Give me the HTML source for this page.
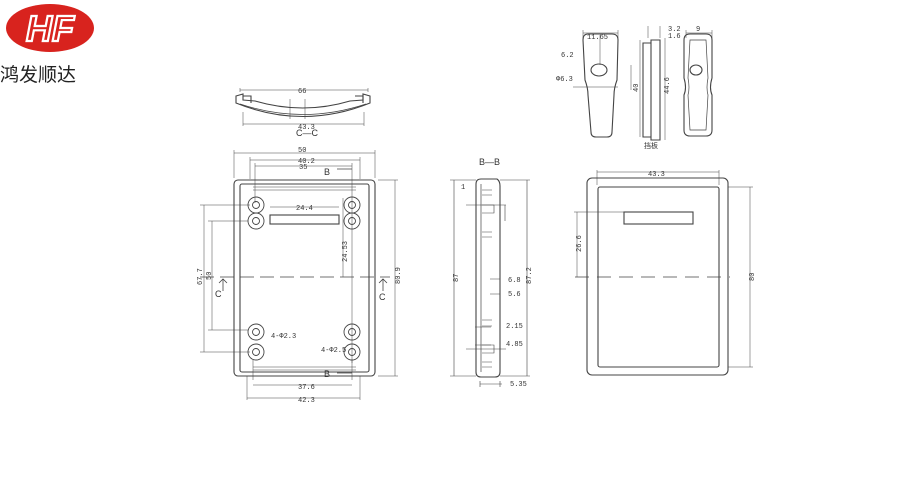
<!DOCTYPE html>
<html><head><meta charset="utf-8"><style>
html,body{margin:0;padding:0;background:#fff;width:900px;height:500px;overflow:hidden}
svg{display:block}
text{font-family:"Liberation Mono",monospace;font-size:7px;fill:#333}
</style></head><body>
<svg width="900" height="500" viewBox="0 0 900 500" xmlns="http://www.w3.org/2000/svg">
<!-- logo -->
<ellipse cx="50" cy="28" rx="44" ry="24" fill="#d8231e"/>
<text x="50" y="41" text-anchor="middle" style="font-family:'Liberation Sans',sans-serif;font-size:36px;font-weight:bold;font-style:italic;fill:#d8231e;stroke:#fff;stroke-width:2.2">HF</text>
<text x="0" y="81" style="font-family:'Liberation Sans','Noto Sans CJK SC',sans-serif;font-size:19px;fill:#222">鸿发顺达</text>

<g stroke="#444" fill="none" stroke-width="1.1">
<!-- C-C -->
<path d="M236 103 Q303 130 370 103 L370 96 L363 94 L363 100 L350 101 Q303 115 255 101 L243 100 L243 94 L236 96 Z"/>
<path d="M240 104 Q303 125 366 104" stroke-width="0.8"/>
<path d="M243 96h8v7M355 96h8v7" />
<path d="M240 92v-4M368 92v-4M240 90h128M243 112v14M364 112v14M243 124h121" stroke-width="0.5"/>
<path d="M290 99v20M305 99v20" stroke-width="0.5"/>

<!-- front view -->
<rect x="234" y="180" width="141" height="196" rx="4"/>
<rect x="240" y="184" width="129" height="188" rx="2"/>
<path d="M253 187h103M253 190h103M253 370h103M253 367h103" stroke-width="0.6"/>
<rect x="270" y="215" width="69" height="9"/>
<g stroke-width="0.9">
<circle cx="256" cy="205" r="8"/><circle cx="256" cy="205" r="3.5"/>
<circle cx="256" cy="221" r="8"/><circle cx="256" cy="221" r="3.5"/>
<circle cx="352" cy="205" r="8"/><circle cx="352" cy="205" r="3.5"/>
<circle cx="352" cy="221" r="8"/><circle cx="352" cy="221" r="3.5"/>
<circle cx="256" cy="332" r="8"/><circle cx="256" cy="332" r="3.5"/>
<circle cx="256" cy="352" r="8"/><circle cx="256" cy="352" r="3.5"/>
<circle cx="352" cy="332" r="8"/><circle cx="352" cy="332" r="3.5"/>
<circle cx="352" cy="352" r="8"/><circle cx="352" cy="352" r="3.5"/>
</g>
<g stroke-width="0.5">
<path d="M234 150v28M375 150v28M234 153h141M250 157v22M360 157v22M250 160h110M255 163v40M352 163v200M255 166h97"/>
<path d="M253 380v-20M352 380v-20M253 385h99M247 400v-24M360 400v-24M247 398h113"/>
<path d="M200 205h50M200 352h50M204 205v147M208 221h40M208 330h40M212 221v109"/>
<path d="M378 180h20M378 376h20M395 180v196"/>
<path d="M343 198v79M270 207h69"/>
</g>
<path d="M200 277h190" stroke-dasharray="14 6" stroke-width="0.8"/>
<path d="M223 279v12M383 279v12M219 283l4-4 4 4M379 283l4-4 4 4" stroke-width="0.8"/>
<path d="M337 169h15M337 373h15" stroke-width="0.8"/>

<!-- B-B -->
<path d="M476 184 Q476 179 481 179 L497 179 Q500 181 500 186 L500 372 Q500 377 495 377 L481 377 Q476 377 476 372 Z"/>
<path d="M481 184v188" stroke-width="0.7"/>
<g stroke-width="0.6">
<path d="M482 190h10M482 195h10M482 205h12v8h-12M482 232h10M482 237h10M482 320h10M482 326h10M482 345h12v8h-12M482 362h10M482 367h10"/>
<path d="M466 205h40M466 349h40M450 180h26M450 376h26M454 180v196M500 180h30M500 376h30M527 180v196"/>
<path d="M490 279h10M490 294h10M475 327h16M475 345h16M480 381v6M500 381v6M480 384h22"/>
<path d="M505 205v16M500 228v20"/>
</g>

<!-- side view -->
<rect x="587" y="178" width="141" height="197" rx="5"/>
<rect x="598" y="187" width="121" height="180" rx="2"/>
<rect x="624" y="212" width="69" height="12"/>
<path d="M575 277h155" stroke-dasharray="14 8" stroke-width="0.8"/>
<g stroke-width="0.5">
<path d="M597 170v15M719 170v15M597 172h122M574 212h50M577 212v65M728 187h25M728 367h25M750 187v180"/>
</g>

<!-- top small views -->
<path d="M588 34 Q583 34 583 40 L585 80 Q588 88 588 95 L591 132 Q591 137 596 137 L607 137 Q612 137 612 132 L614 95 Q614 88 617 80 L618 40 Q618 34 612 34 Z"/>
<ellipse cx="599" cy="70" rx="8" ry="6"/>
<path d="M643 43 L651 43 L651 137 L643 137 Z M651 40 L660 40 L660 140 L651 140Z"/>
<path d="M690 34 Q684 34 684 40 L684 78 Q687 88 684 95 L684 130 Q684 136 690 136 L706 136 Q712 136 712 130 L712 95 Q709 88 712 78 L712 40 Q712 34 706 34 Z"/>
<path d="M690 40 L706 40 L708 78 Q706 88 708 95 L706 130 L690 130 L688 95 Q690 88 688 78 Z" stroke-width="0.7"/>
<ellipse cx="696" cy="70" rx="6" ry="5"/>
<g stroke-width="0.5">
<path d="M583 30v8M618 30v8M583 33h35M573 87h45M600 65v-30M631 65v25M640 40v97M665 38v102M648 26v12M660 26v12M686 30v8M712 30v8M686 33h26"/>
</g>
</g>

<g>
<text x="298" y="93">66</text><text x="298" y="129">43.3</text>
<text x="296" y="136" style="font-size:9px;font-family:'Liberation Sans',sans-serif">C—C</text>
<text x="298" y="152">50</text><text x="298" y="163">40.2</text><text x="299" y="169">35</text>
<text x="324" y="175" style="font-size:9px;font-family:'Liberation Sans',sans-serif">B</text>
<text x="324" y="377" style="font-size:9px;font-family:'Liberation Sans',sans-serif">B</text>
<text x="296" y="210">24.4</text>
<text x="298" y="389">37.6</text><text x="298" y="402">42.3</text>
<text x="271" y="338">4-Φ2.3</text><text x="321" y="352">4-Φ2.5</text>
<text x="215" y="297" style="font-size:9px;font-family:'Liberation Sans',sans-serif">C</text>
<text x="379" y="300" style="font-size:9px;font-family:'Liberation Sans',sans-serif">C</text>
<text x="479" y="165" style="font-size:9px;font-family:'Liberation Sans',sans-serif">B—B</text>
<text x="461" y="189">1</text>
<text x="508" y="282">6.8</text><text x="508" y="296">5.6</text>
<text x="506" y="328">2.15</text><text x="506" y="346">4.85</text><text x="510" y="386">5.35</text>
<text x="648" y="176">43.3</text>
<text x="587" y="39">11.65</text><text x="561" y="57">6.2</text><text x="556" y="81">Φ6.3</text>
<text x="668" y="31">3.2</text><text x="668" y="38">1.6</text><text x="696" y="31">9</text>
<text x="644" y="148">挡板</text>
</g>
<g transform="rotate(-90)">
<text x="-285" y="202">67.7</text><text x="-280" y="211">50</text>
<text x="-284" y="400">80.9</text><text x="-262" y="347">24.53</text>
<text x="-282" y="458">87</text><text x="-284" y="531">87.2</text>
<text x="-252" y="581">26.6</text><text x="-281" y="754">80</text>
<text x="-92" y="638">40</text><text x="-94" y="669">44.6</text>
</g>
</svg>
</body></html>
